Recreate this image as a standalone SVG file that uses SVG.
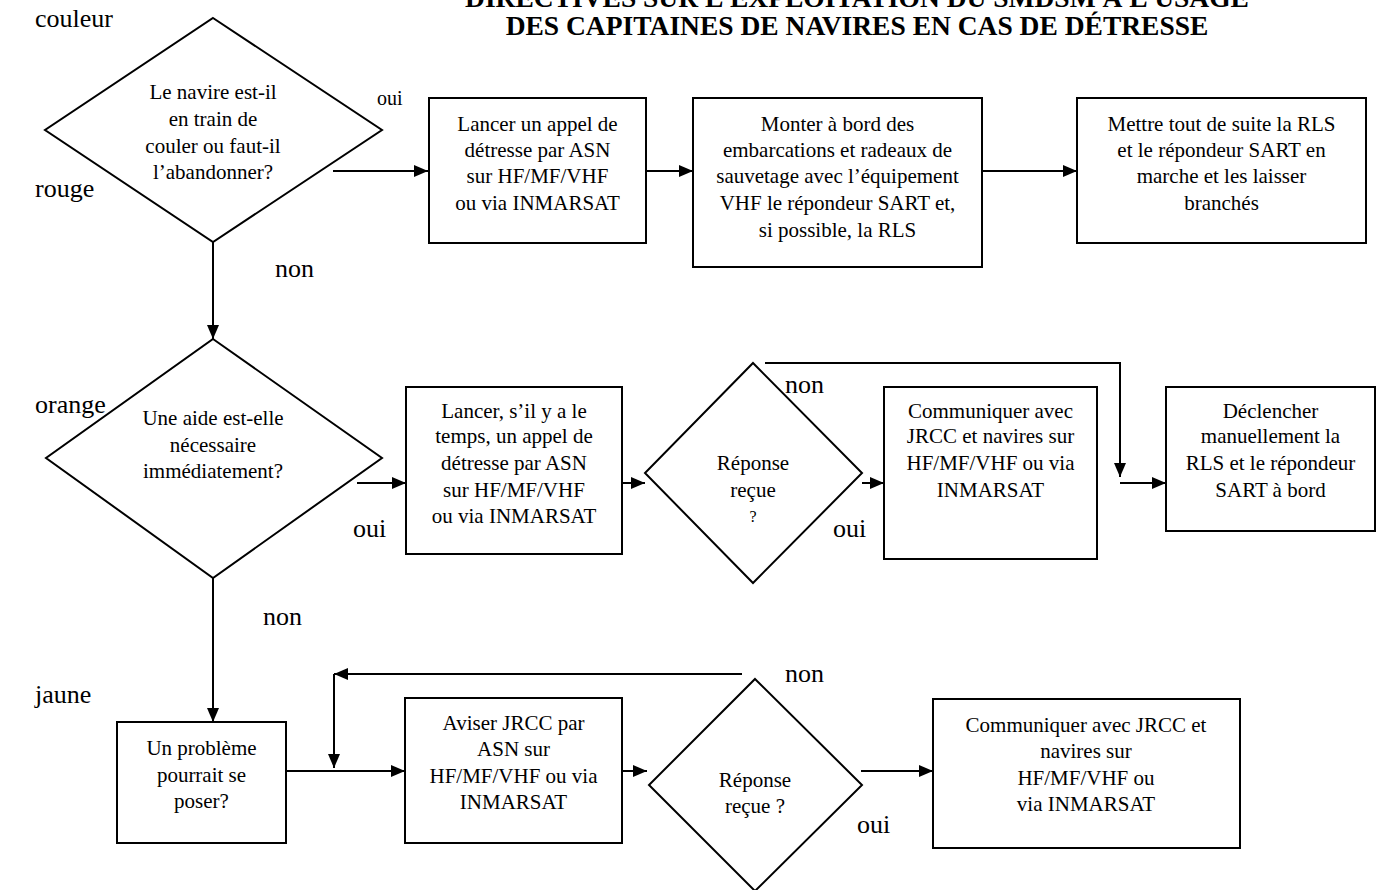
<svg xmlns="http://www.w3.org/2000/svg" width="1394" height="890" viewBox="0 0 1394 890">
<style>
text{font-family:"Liberation Serif","Times New Roman",serif;fill:#000}
.n{font-size:21px;text-anchor:middle}
.lab{font-size:26px}
.sm{font-size:20px}
.t{font-size:27.5px;font-weight:bold;text-anchor:middle}
.shape{fill:#fff;stroke:#000;stroke-width:2}
.c{fill:none;stroke:#000;stroke-width:2;marker-end:url(#ah)}
</style>
<defs>
<marker id="ah" markerUnits="userSpaceOnUse" markerWidth="14" markerHeight="12" refX="14" refY="6" orient="auto">
<path d="M0,0 L14,6 L0,12 z" fill="#000"/>
</marker>
</defs>
<rect width="1394" height="890" fill="#fff"/>
<g id="title">
<text class="t" x="857" y="7">DIRECTIVES SUR L’EXPLOITATION DU SMDSM À L’USAGE</text>
<text class="t" x="857" y="35">DES CAPITAINES DE NAVIRES EN CAS DE DÉTRESSE</text>
</g>
<g id="labels">
<text class="lab" x="35" y="27">couleur</text>
<text class="lab" x="35" y="197">rouge</text>
<text class="lab" x="35" y="413">orange</text>
<text class="lab" x="35" y="703">jaune</text>
<text class="sm" x="377" y="105">oui</text>
<text class="lab" x="275" y="277">non</text>
<text class="lab" x="353" y="537">oui</text>
<text class="lab" x="263" y="625">non</text>
<text class="lab" x="785" y="393">non</text>
<text class="lab" x="833" y="537">oui</text>
<text class="lab" x="785" y="682">non</text>
<text class="lab" x="857" y="833">oui</text>
</g>
<g id="connectors">
<path class="c" d="M333,171 H428"/>
<path class="c" d="M213,242 V339"/>
<path class="c" d="M646,171 H693"/>
<path class="c" d="M982,171 H1077"/>
<path class="c" d="M357,483 H406"/>
<path class="c" d="M622,483 H645"/>
<path class="c" d="M862,483 H884"/>
<path class="c" d="M765,363 H1120 V477"/>
<path class="c" d="M1120,483 H1166"/>
<path class="c" d="M213,578 V722"/>
<path class="c" d="M286,771 H405"/>
<path class="c" d="M742,674 H334"/>
<path class="c" d="M334,674 V768"/>
<path class="c" d="M622,771 H647"/>
<path class="c" d="M861,771 H933"/>
</g>
<g id="d1">
<polygon class="shape" points="213,18 382,130 213,242 45,130"/>
<text class="n" x="213" y="99">Le navire est-il</text>
<text class="n" x="213" y="126">en train de</text>
<text class="n" x="213" y="153">couler ou faut-il</text>
<text class="n" x="213" y="179">l’abandonner?</text>
</g>
<g id="b1">
<rect class="shape" x="429" y="98" width="217" height="145"/>
<text class="n" x="537.5" y="131">Lancer un appel de</text>
<text class="n" x="537.5" y="157">détresse par ASN</text>
<text class="n" x="537.5" y="183">sur HF/MF/VHF</text>
<text class="n" x="537.5" y="210">ou via INMARSAT</text>
</g>
<g id="b2">
<rect class="shape" x="693" y="98" width="289" height="169"/>
<text class="n" x="837.5" y="131">Monter à bord des</text>
<text class="n" x="837.5" y="157">embarcations et radeaux de</text>
<text class="n" x="837.5" y="183">sauvetage avec l’équipement</text>
<text class="n" x="837.5" y="210">VHF le répondeur SART et,</text>
<text class="n" x="837.5" y="237">si possible, la RLS</text>
</g>
<g id="b3">
<rect class="shape" x="1077" y="98" width="289" height="145"/>
<text class="n" x="1221.5" y="131">Mettre tout de suite la RLS</text>
<text class="n" x="1221.5" y="157">et le répondeur SART en</text>
<text class="n" x="1221.5" y="183">marche et les laisser</text>
<text class="n" x="1221.5" y="210">branchés</text>
</g>
<g id="d2">
<polygon class="shape" points="213,339 382,458 213,578 46,458"/>
<text class="n" x="213" y="425">Une aide est-elle</text>
<text class="n" x="213" y="452">nécessaire</text>
<text class="n" x="213" y="478">immédiatement?</text>
</g>
<g id="b4">
<rect class="shape" x="406" y="387" width="216" height="167"/>
<text class="n" x="514" y="418">Lancer, s’il y a le</text>
<text class="n" x="514" y="443">temps, un appel de</text>
<text class="n" x="514" y="470">détresse par ASN</text>
<text class="n" x="514" y="497">sur HF/MF/VHF</text>
<text class="n" x="514" y="523">ou via INMARSAT</text>
</g>
<g id="d3">
<polygon class="shape" points="753,363 862,473 753,583 645,473"/>
<text class="n" x="753" y="470">Réponse</text>
<text class="n" x="753" y="497">reçue</text>
<text class="n" x="753" y="522" style="font-size:16px">?</text>
</g>
<g id="b5">
<rect class="shape" x="884" y="387" width="213" height="172"/>
<text class="n" x="990.5" y="418">Communiquer avec</text>
<text class="n" x="990.5" y="443">JRCC et navires sur</text>
<text class="n" x="990.5" y="470">HF/MF/VHF ou via</text>
<text class="n" x="990.5" y="497">INMARSAT</text>
</g>
<g id="b6">
<rect class="shape" x="1166" y="387" width="209" height="144"/>
<text class="n" x="1270.5" y="418">Déclencher</text>
<text class="n" x="1270.5" y="443">manuellement la</text>
<text class="n" x="1270.5" y="470">RLS et le répondeur</text>
<text class="n" x="1270.5" y="497">SART à bord</text>
</g>
<g id="b7">
<rect class="shape" x="117" y="722" width="169" height="121"/>
<text class="n" x="201.5" y="755">Un problème</text>
<text class="n" x="201.5" y="782">pourrait se</text>
<text class="n" x="201.5" y="808">poser?</text>
</g>
<g id="b8">
<rect class="shape" x="405" y="698" width="217" height="145"/>
<text class="n" x="513.5" y="730">Aviser JRCC par</text>
<text class="n" x="513.5" y="756">ASN sur</text>
<text class="n" x="513.5" y="783">HF/MF/VHF ou via</text>
<text class="n" x="513.5" y="809">INMARSAT</text>
</g>
<g id="d4">
<polygon class="shape" points="755,679 862,785 755,891 649,785"/>
<text class="n" x="755" y="787">Réponse</text>
<text class="n" x="755" y="813">reçue ?</text>
</g>
<g id="b9">
<rect class="shape" x="933" y="699" width="307" height="149"/>
<text class="n" x="1086" y="732">Communiquer avec JRCC et</text>
<text class="n" x="1086" y="758">navires sur</text>
<text class="n" x="1086" y="785">HF/MF/VHF ou</text>
<text class="n" x="1086" y="811">via INMARSAT</text>
</g>
</svg>
